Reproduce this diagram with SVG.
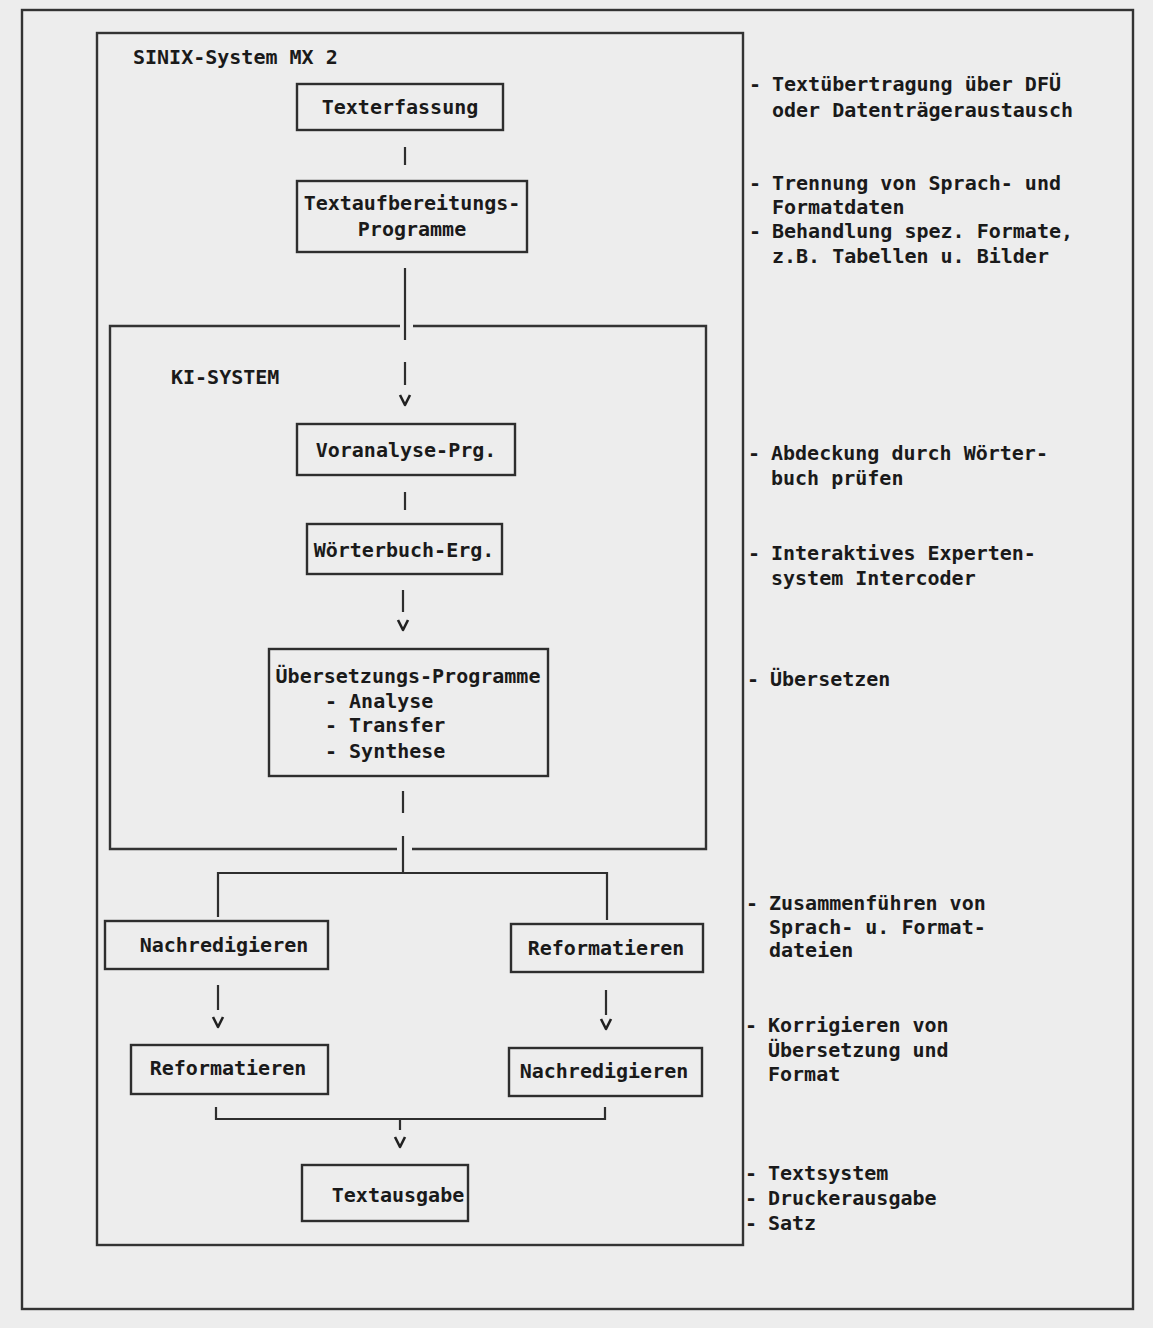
<svg xmlns="http://www.w3.org/2000/svg" width="1153" height="1328" viewBox="0 0 1153 1328">
<style>
.frame{fill:none;stroke:#333;stroke-width:2.4}
.box{fill:none;stroke:#2e2e2e;stroke-width:2.4}
.ln{fill:none;stroke:#2e2e2e;stroke-width:2.2}
.ar{fill:none;stroke:#222;stroke-width:2.6;stroke-linejoin:round}
.t{font-family:"DejaVu Sans Mono","Liberation Mono",monospace;font-size:20px;font-weight:bold;fill:#1a1a1a}
.c{text-anchor:middle}
</style>
<rect width="1153" height="1328" fill="#ededed"/>
<rect class="frame" x="22" y="10" width="1111" height="1299"/>
<g id="sinix">
<rect class="frame" x="97" y="33" width="646" height="1212"/>
<text class="t" x="133" y="64">SINIX-System MX 2</text>
</g>
<g id="ki">
<path class="frame" d="M400,326 H110 V849 H397 M412,849 H706 V326 H413"/>
<text class="t" x="171" y="384">KI-SYSTEM</text>
</g>
<g id="n1"><rect class="box" x="297" y="84" width="206" height="46"/><text class="t c" x="400" y="114">Texterfassung</text></g>
<g id="n2"><rect class="box" x="297" y="181" width="230" height="71"/><text class="t c" x="412" y="210">Textaufbereitungs-</text><text class="t c" x="412" y="236">Programme</text></g>
<g id="n3"><rect class="box" x="297" y="424" width="218" height="51"/><text class="t c" x="406" y="457">Voranalyse-Prg.</text></g>
<g id="n4"><rect class="box" x="307" y="524" width="195" height="50"/><text class="t c" x="404" y="557">Wörterbuch-Erg.</text></g>
<g id="n5"><rect class="box" x="269" y="649" width="279" height="127"/>
<text class="t c" x="408" y="683">Übersetzungs-Programme</text>
<text class="t" x="325" y="708">- Analyse</text>
<text class="t" x="325" y="732">- Transfer</text>
<text class="t" x="325" y="758">- Synthese</text></g>
<g id="n6"><rect class="box" x="105" y="921" width="223" height="48"/><text class="t c" x="224" y="952">Nachredigieren</text></g>
<g id="n7"><rect class="box" x="511" y="924" width="192" height="48"/><text class="t c" x="606" y="955">Reformatieren</text></g>
<g id="n8"><rect class="box" x="131" y="1045" width="197" height="49"/><text class="t c" x="228" y="1075">Reformatieren</text></g>
<g id="n9"><rect class="box" x="509" y="1048" width="193" height="48"/><text class="t c" x="604" y="1078">Nachredigieren</text></g>
<g id="n10"><rect class="box" x="302" y="1165" width="166" height="56"/><text class="t c" x="398" y="1202">Textausgabe</text></g>
<g id="connectors">
<path class="ln" d="M405,147 V165"/>
<path class="ln" d="M405,268 V340"/>
<path class="ln" d="M405,362 V385"/>
<path class="ar" d="M400,395 L405,405 L410,395"/>
<path class="ln" d="M405,492 V510"/>
<path class="ln" d="M403,590 V612"/>
<path class="ar" d="M398,620 L403,630 L408,620"/>
<path class="ln" d="M403,791 V813"/>
<path class="ln" d="M403,836 V873 M218,917 V873 H607 V920"/>
<path class="ln" d="M218,985 V1010"/>
<path class="ar" d="M213,1017 L218,1027 L223,1017"/>
<path class="ln" d="M606,990 V1015"/>
<path class="ar" d="M601,1019 L606,1029 L611,1019"/>
<path class="ln" d="M216,1107 V1119 H605 V1107 M400,1119 V1130"/>
<path class="ar" d="M395,1137 L400,1147 L405,1137"/>
</g>
<g id="notes">
<text class="t" x="749" y="91">-</text><text class="t" x="772" y="91">Textübertragung über DFÜ</text>
<text class="t" x="772" y="117">oder Datenträgeraustausch</text>
<text class="t" x="749" y="190">-</text><text class="t" x="772" y="190">Trennung von Sprach- und</text>
<text class="t" x="772" y="214">Formatdaten</text>
<text class="t" x="749" y="238">-</text><text class="t" x="772" y="238">Behandlung spez. Formate,</text>
<text class="t" x="772" y="263">z.B. Tabellen u. Bilder</text>
<text class="t" x="748" y="460">-</text><text class="t" x="771" y="460">Abdeckung durch Wörter-</text>
<text class="t" x="771" y="485">buch prüfen</text>
<text class="t" x="748" y="560">-</text><text class="t" x="771" y="560">Interaktives Experten-</text>
<text class="t" x="771" y="585">system Intercoder</text>
<text class="t" x="747" y="686">-</text><text class="t" x="770" y="686">Übersetzen</text>
<text class="t" x="746" y="910">-</text><text class="t" x="769" y="910">Zusammenführen von</text>
<text class="t" x="769" y="934">Sprach- u. Format-</text>
<text class="t" x="769" y="957">dateien</text>
<text class="t" x="745" y="1032">-</text><text class="t" x="768" y="1032">Korrigieren von</text>
<text class="t" x="768" y="1057">Übersetzung und</text>
<text class="t" x="768" y="1081">Format</text>
<text class="t" x="745" y="1180">-</text><text class="t" x="768" y="1180">Textsystem</text>
<text class="t" x="745" y="1205">-</text><text class="t" x="768" y="1205">Druckerausgabe</text>
<text class="t" x="745" y="1230">-</text><text class="t" x="768" y="1230">Satz</text>
</g>
</svg>
